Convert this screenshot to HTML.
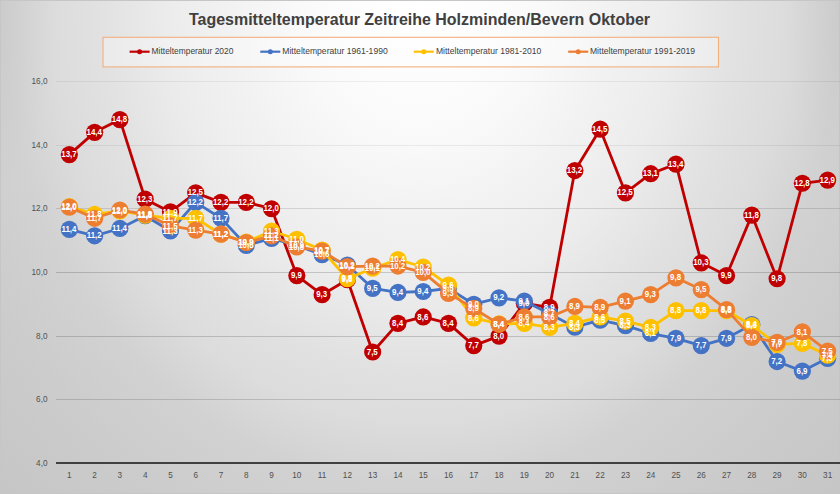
<!DOCTYPE html>
<html><head><meta charset="utf-8"><title>Chart</title>
<style>
html,body{margin:0;padding:0;background:#d0d0d0;}
body{width:840px;height:494px;overflow:hidden;font-family:"Liberation Sans",sans-serif;}
svg{display:block;font-family:"Liberation Sans",sans-serif;}
.dl{font-size:8.5px;font-weight:bold;fill:#fff;text-anchor:middle;}
.ax{font-size:8.2px;fill:#505050;}
.lg{font-size:8.6px;fill:#404040;}
</style></head><body>
<svg width="840" height="494" viewBox="0 0 840 494">
<defs>
<radialGradient id="bg" gradientUnits="userSpaceOnUse" cx="420" cy="0" r="600" gradientTransform="scale(1 1.15)">
<stop offset="0.0000" stop-color="#ffffff"/>
<stop offset="0.1400" stop-color="#fcfcfc"/>
<stop offset="0.2100" stop-color="#f9f9f9"/>
<stop offset="0.3150" stop-color="#f2f2f2"/>
<stop offset="0.4200" stop-color="#ececec"/>
<stop offset="0.5390" stop-color="#e1e1e1"/>
<stop offset="0.6160" stop-color="#dcdcdc"/>
<stop offset="0.7000" stop-color="#d2d2d2"/>
<stop offset="0.8260" stop-color="#cccccc"/>
<stop offset="0.9940" stop-color="#c6c6c6"/>
</radialGradient>
<radialGradient id="cl" gradientUnits="userSpaceOnUse" cx="0" cy="0" r="120" gradientTransform="scale(0.5 1.6)"><stop offset="0" stop-color="#000" stop-opacity="0.035"/><stop offset="1" stop-color="#000" stop-opacity="0"/></radialGradient>
<radialGradient id="cr" gradientUnits="userSpaceOnUse" cx="1680" cy="0" r="120" gradientTransform="scale(0.5 1.6)"><stop offset="0" stop-color="#000" stop-opacity="0.035"/><stop offset="1" stop-color="#000" stop-opacity="0"/></radialGradient>
</defs>
<rect x="0" y="0" width="840" height="494" fill="url(#bg)"/>
<rect x="0" y="0" width="70" height="200" fill="url(#cl)"/>
<rect x="770" y="0" width="70" height="200" fill="url(#cr)"/>
<rect x="0.5" y="0.5" width="839" height="493" fill="none" stroke="#c6c6c6" stroke-width="1"/>

<line x1="56" x2="840" y1="399.50" y2="399.50" stroke="#000" stroke-opacity="0.15" stroke-width="1"/>
<line x1="56" x2="840" y1="336.50" y2="336.50" stroke="#000" stroke-opacity="0.17" stroke-width="1"/>
<line x1="56" x2="840" y1="272.50" y2="272.50" stroke="#000" stroke-opacity="0.17" stroke-width="1"/>
<line x1="56" x2="840" y1="208.50" y2="208.50" stroke="#000" stroke-opacity="0.12" stroke-width="1"/>
<line x1="56" x2="840" y1="145.50" y2="145.50" stroke="#000" stroke-opacity="0.065" stroke-width="1"/>
<line x1="56" x2="840" y1="81.50" y2="81.50" stroke="#000" stroke-opacity="0.06" stroke-width="1"/>
<text class="ax" x="47.5" y="466.00" text-anchor="end">4,0</text>
<text class="ax" x="47.5" y="402.33" text-anchor="end">6,0</text>
<text class="ax" x="47.5" y="338.67" text-anchor="end">8,0</text>
<text class="ax" x="47.5" y="275.00" text-anchor="end">10,0</text>
<text class="ax" x="47.5" y="211.33" text-anchor="end">12,0</text>
<text class="ax" x="47.5" y="147.67" text-anchor="end">14,0</text>
<text class="ax" x="47.5" y="84.00" text-anchor="end">16,0</text>
<line x1="56" x2="840" y1="463" y2="463" stroke="#404040" stroke-width="2"/>
<text class="ax" x="69.34" y="477.6" text-anchor="middle">1</text>
<text class="ax" x="94.62" y="477.6" text-anchor="middle">2</text>
<text class="ax" x="119.89" y="477.6" text-anchor="middle">3</text>
<text class="ax" x="145.17" y="477.6" text-anchor="middle">4</text>
<text class="ax" x="170.45" y="477.6" text-anchor="middle">5</text>
<text class="ax" x="195.73" y="477.6" text-anchor="middle">6</text>
<text class="ax" x="221.00" y="477.6" text-anchor="middle">7</text>
<text class="ax" x="246.28" y="477.6" text-anchor="middle">8</text>
<text class="ax" x="271.56" y="477.6" text-anchor="middle">9</text>
<text class="ax" x="296.84" y="477.6" text-anchor="middle">10</text>
<text class="ax" x="322.11" y="477.6" text-anchor="middle">11</text>
<text class="ax" x="347.39" y="477.6" text-anchor="middle">12</text>
<text class="ax" x="372.67" y="477.6" text-anchor="middle">13</text>
<text class="ax" x="397.95" y="477.6" text-anchor="middle">14</text>
<text class="ax" x="423.22" y="477.6" text-anchor="middle">15</text>
<text class="ax" x="448.50" y="477.6" text-anchor="middle">16</text>
<text class="ax" x="473.78" y="477.6" text-anchor="middle">17</text>
<text class="ax" x="499.05" y="477.6" text-anchor="middle">18</text>
<text class="ax" x="524.33" y="477.6" text-anchor="middle">19</text>
<text class="ax" x="549.61" y="477.6" text-anchor="middle">20</text>
<text class="ax" x="574.89" y="477.6" text-anchor="middle">21</text>
<text class="ax" x="600.16" y="477.6" text-anchor="middle">22</text>
<text class="ax" x="625.44" y="477.6" text-anchor="middle">23</text>
<text class="ax" x="650.72" y="477.6" text-anchor="middle">24</text>
<text class="ax" x="676.00" y="477.6" text-anchor="middle">25</text>
<text class="ax" x="701.27" y="477.6" text-anchor="middle">26</text>
<text class="ax" x="726.55" y="477.6" text-anchor="middle">27</text>
<text class="ax" x="751.83" y="477.6" text-anchor="middle">28</text>
<text class="ax" x="777.11" y="477.6" text-anchor="middle">29</text>
<text class="ax" x="802.38" y="477.6" text-anchor="middle">30</text>
<text class="ax" x="827.66" y="477.6" text-anchor="middle">31</text>
<text x="419.5" y="24.6" text-anchor="middle" font-size="16.5" font-weight="bold" fill="#404040" textLength="461" lengthAdjust="spacingAndGlyphs">Tagesmitteltemperatur Zeitreihe Holzminden/Bevern Oktober</text>
<rect x="103" y="37.3" width="615.5" height="29.6" fill="#ffffff" fill-opacity="0.3" stroke="#f2b080" stroke-width="1.1"/>
<line x1="129.60000000000002" x2="149.60000000000002" y1="51.7" y2="51.7" stroke="#C00000" stroke-width="2.2"/>
<circle cx="139.60000000000002" cy="51.7" r="2.5" fill="#C00000"/>
<text class="lg" x="151.6" y="54.3" textLength="81.8" lengthAdjust="spacingAndGlyphs">Mitteltemperatur 2020</text>
<line x1="260.3" x2="280.3" y1="51.7" y2="51.7" stroke="#4472C4" stroke-width="2.2"/>
<circle cx="270.3" cy="51.7" r="2.5" fill="#4472C4"/>
<text class="lg" x="282.3" y="54.3" textLength="105.4" lengthAdjust="spacingAndGlyphs">Mitteltemperatur 1961-1990</text>
<line x1="413.8" x2="433.8" y1="51.7" y2="51.7" stroke="#FFC000" stroke-width="2.2"/>
<circle cx="423.8" cy="51.7" r="2.5" fill="#FFC000"/>
<text class="lg" x="435.9" y="54.3" textLength="105.4" lengthAdjust="spacingAndGlyphs">Mitteltemperatur 1981-2010</text>
<line x1="568.1999999999999" x2="588.1999999999999" y1="51.7" y2="51.7" stroke="#ED7D31" stroke-width="2.2"/>
<circle cx="578.1999999999999" cy="51.7" r="2.5" fill="#ED7D31"/>
<text class="lg" x="590" y="54.3" textLength="105" lengthAdjust="spacingAndGlyphs">Mitteltemperatur 1991-2019</text>
<polyline points="69.34,154.62 94.62,132.33 119.89,119.60 145.17,199.18 170.45,211.92 195.73,192.82 221.00,202.37 246.28,202.37 271.56,208.73 296.84,275.58 322.11,294.68 347.39,279.72 372.67,351.98 397.95,323.33 423.22,316.97 448.50,323.33 473.78,345.62 499.05,336.07 524.33,303.28 549.61,307.42 574.89,170.53 600.16,129.15 625.44,192.82 650.72,173.72 676.00,164.17 701.27,262.85 726.55,275.58 751.83,215.10 777.11,278.77 802.38,183.27 827.66,180.08" fill="none" stroke="#C00000" stroke-width="2.8" stroke-linejoin="round" stroke-linecap="round"/>
<circle cx="69.34" cy="154.62" r="8.6" fill="#C00000"/>
<circle cx="94.62" cy="132.33" r="8.6" fill="#C00000"/>
<circle cx="119.89" cy="119.60" r="8.6" fill="#C00000"/>
<circle cx="145.17" cy="199.18" r="8.6" fill="#C00000"/>
<circle cx="170.45" cy="211.92" r="8.6" fill="#C00000"/>
<circle cx="195.73" cy="192.82" r="8.6" fill="#C00000"/>
<circle cx="221.00" cy="202.37" r="8.6" fill="#C00000"/>
<circle cx="246.28" cy="202.37" r="8.6" fill="#C00000"/>
<circle cx="271.56" cy="208.73" r="8.6" fill="#C00000"/>
<circle cx="296.84" cy="275.58" r="8.6" fill="#C00000"/>
<circle cx="322.11" cy="294.68" r="8.6" fill="#C00000"/>
<circle cx="347.39" cy="279.72" r="8.6" fill="#C00000"/>
<circle cx="372.67" cy="351.98" r="8.6" fill="#C00000"/>
<circle cx="397.95" cy="323.33" r="8.6" fill="#C00000"/>
<circle cx="423.22" cy="316.97" r="8.6" fill="#C00000"/>
<circle cx="448.50" cy="323.33" r="8.6" fill="#C00000"/>
<circle cx="473.78" cy="345.62" r="8.6" fill="#C00000"/>
<circle cx="499.05" cy="336.07" r="8.6" fill="#C00000"/>
<circle cx="524.33" cy="303.28" r="8.6" fill="#C00000"/>
<circle cx="549.61" cy="307.42" r="8.6" fill="#C00000"/>
<circle cx="574.89" cy="170.53" r="8.6" fill="#C00000"/>
<circle cx="600.16" cy="129.15" r="8.6" fill="#C00000"/>
<circle cx="625.44" cy="192.82" r="8.6" fill="#C00000"/>
<circle cx="650.72" cy="173.72" r="8.6" fill="#C00000"/>
<circle cx="676.00" cy="164.17" r="8.6" fill="#C00000"/>
<circle cx="701.27" cy="262.85" r="8.6" fill="#C00000"/>
<circle cx="726.55" cy="275.58" r="8.6" fill="#C00000"/>
<circle cx="751.83" cy="215.10" r="8.6" fill="#C00000"/>
<circle cx="777.11" cy="278.77" r="8.6" fill="#C00000"/>
<circle cx="802.38" cy="183.27" r="8.6" fill="#C00000"/>
<circle cx="827.66" cy="180.08" r="8.6" fill="#C00000"/>
<polyline points="69.34,229.42 94.62,235.79 119.89,228.47 145.17,215.74 170.45,231.02 195.73,202.37 221.00,218.28 246.28,245.34 271.56,238.34 296.84,245.34 322.11,254.57 347.39,265.08 372.67,288.32 397.95,292.46 423.22,291.50 448.50,288.32 473.78,304.23 499.05,297.87 524.33,301.05 549.61,313.78 574.89,327.15 600.16,320.15 625.44,325.56 650.72,333.52 676.00,338.29 701.27,345.62 726.55,338.29 751.83,324.61 777.11,361.53 802.38,371.08 827.66,358.35" fill="none" stroke="#4472C4" stroke-width="2.8" stroke-linejoin="round" stroke-linecap="round"/>
<circle cx="69.34" cy="229.42" r="8.6" fill="#4472C4"/>
<circle cx="94.62" cy="235.79" r="8.6" fill="#4472C4"/>
<circle cx="119.89" cy="228.47" r="8.6" fill="#4472C4"/>
<circle cx="145.17" cy="215.74" r="8.6" fill="#4472C4"/>
<circle cx="170.45" cy="231.02" r="8.6" fill="#4472C4"/>
<circle cx="195.73" cy="202.37" r="8.6" fill="#4472C4"/>
<circle cx="221.00" cy="218.28" r="8.6" fill="#4472C4"/>
<circle cx="246.28" cy="245.34" r="8.6" fill="#4472C4"/>
<circle cx="271.56" cy="238.34" r="8.6" fill="#4472C4"/>
<circle cx="296.84" cy="245.34" r="8.6" fill="#4472C4"/>
<circle cx="322.11" cy="254.57" r="8.6" fill="#4472C4"/>
<circle cx="347.39" cy="265.08" r="8.6" fill="#4472C4"/>
<circle cx="372.67" cy="288.32" r="8.6" fill="#4472C4"/>
<circle cx="397.95" cy="292.46" r="8.6" fill="#4472C4"/>
<circle cx="423.22" cy="291.50" r="8.6" fill="#4472C4"/>
<circle cx="448.50" cy="288.32" r="8.6" fill="#4472C4"/>
<circle cx="473.78" cy="304.23" r="8.6" fill="#4472C4"/>
<circle cx="499.05" cy="297.87" r="8.6" fill="#4472C4"/>
<circle cx="524.33" cy="301.05" r="8.6" fill="#4472C4"/>
<circle cx="549.61" cy="313.78" r="8.6" fill="#4472C4"/>
<circle cx="574.89" cy="327.15" r="8.6" fill="#4472C4"/>
<circle cx="600.16" cy="320.15" r="8.6" fill="#4472C4"/>
<circle cx="625.44" cy="325.56" r="8.6" fill="#4472C4"/>
<circle cx="650.72" cy="333.52" r="8.6" fill="#4472C4"/>
<circle cx="676.00" cy="338.29" r="8.6" fill="#4472C4"/>
<circle cx="701.27" cy="345.62" r="8.6" fill="#4472C4"/>
<circle cx="726.55" cy="338.29" r="8.6" fill="#4472C4"/>
<circle cx="751.83" cy="324.61" r="8.6" fill="#4472C4"/>
<circle cx="777.11" cy="361.53" r="8.6" fill="#4472C4"/>
<circle cx="802.38" cy="371.08" r="8.6" fill="#4472C4"/>
<circle cx="827.66" cy="358.35" r="8.6" fill="#4472C4"/>
<polyline points="69.34,206.50 94.62,214.46 119.89,210.96 145.17,215.10 170.45,218.28 195.73,218.28 221.00,234.20 246.28,242.16 271.56,231.02 296.84,239.29 322.11,250.12 347.39,278.77 372.67,268.26 397.95,259.67 423.22,266.99 448.50,285.13 473.78,317.92 499.05,323.97 524.33,323.33 549.61,327.47 574.89,323.33 600.16,316.97 625.44,321.10 650.72,327.47 676.00,310.60 701.27,310.60 726.55,310.60 751.83,325.56 777.11,344.34 802.38,343.39 827.66,355.17" fill="none" stroke="#FFC000" stroke-width="2.8" stroke-linejoin="round" stroke-linecap="round"/>
<circle cx="69.34" cy="206.50" r="8.6" fill="#FFC000"/>
<circle cx="94.62" cy="214.46" r="8.6" fill="#FFC000"/>
<circle cx="119.89" cy="210.96" r="8.6" fill="#FFC000"/>
<circle cx="145.17" cy="215.10" r="8.6" fill="#FFC000"/>
<circle cx="170.45" cy="218.28" r="8.6" fill="#FFC000"/>
<circle cx="195.73" cy="218.28" r="8.6" fill="#FFC000"/>
<circle cx="221.00" cy="234.20" r="8.6" fill="#FFC000"/>
<circle cx="246.28" cy="242.16" r="8.6" fill="#FFC000"/>
<circle cx="271.56" cy="231.02" r="8.6" fill="#FFC000"/>
<circle cx="296.84" cy="239.29" r="8.6" fill="#FFC000"/>
<circle cx="322.11" cy="250.12" r="8.6" fill="#FFC000"/>
<circle cx="347.39" cy="278.77" r="8.6" fill="#FFC000"/>
<circle cx="372.67" cy="268.26" r="8.6" fill="#FFC000"/>
<circle cx="397.95" cy="259.67" r="8.6" fill="#FFC000"/>
<circle cx="423.22" cy="266.99" r="8.6" fill="#FFC000"/>
<circle cx="448.50" cy="285.13" r="8.6" fill="#FFC000"/>
<circle cx="473.78" cy="317.92" r="8.6" fill="#FFC000"/>
<circle cx="499.05" cy="323.97" r="8.6" fill="#FFC000"/>
<circle cx="524.33" cy="323.33" r="8.6" fill="#FFC000"/>
<circle cx="549.61" cy="327.47" r="8.6" fill="#FFC000"/>
<circle cx="574.89" cy="323.33" r="8.6" fill="#FFC000"/>
<circle cx="600.16" cy="316.97" r="8.6" fill="#FFC000"/>
<circle cx="625.44" cy="321.10" r="8.6" fill="#FFC000"/>
<circle cx="650.72" cy="327.47" r="8.6" fill="#FFC000"/>
<circle cx="676.00" cy="310.60" r="8.6" fill="#FFC000"/>
<circle cx="701.27" cy="310.60" r="8.6" fill="#FFC000"/>
<circle cx="726.55" cy="310.60" r="8.6" fill="#FFC000"/>
<circle cx="751.83" cy="325.56" r="8.6" fill="#FFC000"/>
<circle cx="777.11" cy="344.34" r="8.6" fill="#FFC000"/>
<circle cx="802.38" cy="343.39" r="8.6" fill="#FFC000"/>
<circle cx="827.66" cy="355.17" r="8.6" fill="#FFC000"/>
<polyline points="69.34,207.14 94.62,218.28 119.89,210.01 145.17,214.14 170.45,225.92 195.73,230.06 221.00,234.20 246.28,242.48 271.56,235.79 296.84,246.93 322.11,251.07 347.39,266.67 372.67,266.03 397.95,266.03 423.22,272.40 448.50,293.41 473.78,308.37 499.05,324.29 524.33,316.97 549.61,316.97 574.89,306.46 600.16,307.42 625.44,301.05 650.72,294.68 676.00,277.81 701.27,289.59 726.55,309.64 751.83,337.34 777.11,342.43 802.38,331.93 827.66,351.03" fill="none" stroke="#ED7D31" stroke-width="2.8" stroke-linejoin="round" stroke-linecap="round"/>
<circle cx="69.34" cy="207.14" r="8.6" fill="#ED7D31"/>
<circle cx="94.62" cy="218.28" r="8.6" fill="#ED7D31"/>
<circle cx="119.89" cy="210.01" r="8.6" fill="#ED7D31"/>
<circle cx="145.17" cy="214.14" r="8.6" fill="#ED7D31"/>
<circle cx="170.45" cy="225.92" r="8.6" fill="#ED7D31"/>
<circle cx="195.73" cy="230.06" r="8.6" fill="#ED7D31"/>
<circle cx="221.00" cy="234.20" r="8.6" fill="#ED7D31"/>
<circle cx="246.28" cy="242.48" r="8.6" fill="#ED7D31"/>
<circle cx="271.56" cy="235.79" r="8.6" fill="#ED7D31"/>
<circle cx="296.84" cy="246.93" r="8.6" fill="#ED7D31"/>
<circle cx="322.11" cy="251.07" r="8.6" fill="#ED7D31"/>
<circle cx="347.39" cy="266.67" r="8.6" fill="#ED7D31"/>
<circle cx="372.67" cy="266.03" r="8.6" fill="#ED7D31"/>
<circle cx="397.95" cy="266.03" r="8.6" fill="#ED7D31"/>
<circle cx="423.22" cy="272.40" r="8.6" fill="#ED7D31"/>
<circle cx="448.50" cy="293.41" r="8.6" fill="#ED7D31"/>
<circle cx="473.78" cy="308.37" r="8.6" fill="#ED7D31"/>
<circle cx="499.05" cy="324.29" r="8.6" fill="#ED7D31"/>
<circle cx="524.33" cy="316.97" r="8.6" fill="#ED7D31"/>
<circle cx="549.61" cy="316.97" r="8.6" fill="#ED7D31"/>
<circle cx="574.89" cy="306.46" r="8.6" fill="#ED7D31"/>
<circle cx="600.16" cy="307.42" r="8.6" fill="#ED7D31"/>
<circle cx="625.44" cy="301.05" r="8.6" fill="#ED7D31"/>
<circle cx="650.72" cy="294.68" r="8.6" fill="#ED7D31"/>
<circle cx="676.00" cy="277.81" r="8.6" fill="#ED7D31"/>
<circle cx="701.27" cy="289.59" r="8.6" fill="#ED7D31"/>
<circle cx="726.55" cy="309.64" r="8.6" fill="#ED7D31"/>
<circle cx="751.83" cy="337.34" r="8.6" fill="#ED7D31"/>
<circle cx="777.11" cy="342.43" r="8.6" fill="#ED7D31"/>
<circle cx="802.38" cy="331.93" r="8.6" fill="#ED7D31"/>
<circle cx="827.66" cy="351.03" r="8.6" fill="#ED7D31"/>
<text class="dl" transform="translate(68.94 157.22) scale(0.93 1)">13,7</text>
<text class="dl" transform="translate(94.22 134.93) scale(0.93 1)">14,4</text>
<text class="dl" transform="translate(119.49 122.20) scale(0.93 1)">14,8</text>
<text class="dl" transform="translate(144.77 201.78) scale(0.93 1)">12,3</text>
<text class="dl" transform="translate(170.05 214.52) scale(0.93 1)">11,9</text>
<text class="dl" transform="translate(195.33 195.42) scale(0.93 1)">12,5</text>
<text class="dl" transform="translate(220.60 204.97) scale(0.93 1)">12,2</text>
<text class="dl" transform="translate(245.88 204.97) scale(0.93 1)">12,2</text>
<text class="dl" transform="translate(271.16 211.33) scale(0.93 1)">12,0</text>
<text class="dl" transform="translate(296.44 278.18) scale(0.93 1)">9,9</text>
<text class="dl" transform="translate(321.71 297.28) scale(0.93 1)">9,3</text>
<text class="dl" transform="translate(346.99 282.32) scale(0.93 1)">9,8</text>
<text class="dl" transform="translate(372.27 354.58) scale(0.93 1)">7,5</text>
<text class="dl" transform="translate(397.55 325.93) scale(0.93 1)">8,4</text>
<text class="dl" transform="translate(422.82 319.57) scale(0.93 1)">8,6</text>
<text class="dl" transform="translate(448.10 325.93) scale(0.93 1)">8,4</text>
<text class="dl" transform="translate(473.38 348.22) scale(0.93 1)">7,7</text>
<text class="dl" transform="translate(498.65 338.67) scale(0.93 1)">8,0</text>
<text class="dl" transform="translate(523.93 305.88) scale(0.93 1)">9,0</text>
<text class="dl" transform="translate(549.21 310.02) scale(0.93 1)">8,9</text>
<text class="dl" transform="translate(574.49 173.13) scale(0.93 1)">13,2</text>
<text class="dl" transform="translate(599.76 131.75) scale(0.93 1)">14,5</text>
<text class="dl" transform="translate(625.04 195.42) scale(0.93 1)">12,5</text>
<text class="dl" transform="translate(650.32 176.32) scale(0.93 1)">13,1</text>
<text class="dl" transform="translate(675.60 166.77) scale(0.93 1)">13,4</text>
<text class="dl" transform="translate(700.87 265.45) scale(0.93 1)">10,3</text>
<text class="dl" transform="translate(726.15 278.18) scale(0.93 1)">9,9</text>
<text class="dl" transform="translate(751.43 217.70) scale(0.93 1)">11,8</text>
<text class="dl" transform="translate(776.71 281.37) scale(0.93 1)">9,8</text>
<text class="dl" transform="translate(801.98 185.87) scale(0.93 1)">12,8</text>
<text class="dl" transform="translate(827.26 182.68) scale(0.93 1)">12,9</text>
<text class="dl" transform="translate(68.94 232.02) scale(0.93 1)">11,4</text>
<text class="dl" transform="translate(94.22 238.39) scale(0.93 1)">11,2</text>
<text class="dl" transform="translate(119.49 231.07) scale(0.93 1)">11,4</text>
<text class="dl" transform="translate(144.77 218.34) scale(0.93 1)">11,8</text>
<text class="dl" transform="translate(170.05 233.62) scale(0.93 1)">11,3</text>
<text class="dl" transform="translate(195.33 204.97) scale(0.93 1)">12,2</text>
<text class="dl" transform="translate(220.60 220.88) scale(0.93 1)">11,7</text>
<text class="dl" transform="translate(245.88 247.94) scale(0.93 1)">10,8</text>
<text class="dl" transform="translate(271.16 240.94) scale(0.93 1)">11,1</text>
<text class="dl" transform="translate(296.44 247.94) scale(0.93 1)">10,9</text>
<text class="dl" transform="translate(321.71 257.17) scale(0.93 1)">10,6</text>
<text class="dl" transform="translate(346.99 267.68) scale(0.93 1)">10,2</text>
<text class="dl" transform="translate(372.27 290.92) scale(0.93 1)">9,5</text>
<text class="dl" transform="translate(397.55 295.06) scale(0.93 1)">9,4</text>
<text class="dl" transform="translate(422.82 294.10) scale(0.93 1)">9,4</text>
<text class="dl" transform="translate(448.10 290.92) scale(0.93 1)">9,5</text>
<text class="dl" transform="translate(473.38 306.83) scale(0.93 1)">9,0</text>
<text class="dl" transform="translate(498.65 300.47) scale(0.93 1)">9,2</text>
<text class="dl" transform="translate(523.93 303.65) scale(0.93 1)">9,1</text>
<text class="dl" transform="translate(549.21 316.38) scale(0.93 1)">8,7</text>
<text class="dl" transform="translate(574.49 329.75) scale(0.93 1)">8,3</text>
<text class="dl" transform="translate(599.76 322.75) scale(0.93 1)">8,5</text>
<text class="dl" transform="translate(625.04 328.16) scale(0.93 1)">8,3</text>
<text class="dl" transform="translate(650.32 336.12) scale(0.93 1)">8,1</text>
<text class="dl" transform="translate(675.60 340.89) scale(0.93 1)">7,9</text>
<text class="dl" transform="translate(700.87 348.22) scale(0.93 1)">7,7</text>
<text class="dl" transform="translate(726.15 340.89) scale(0.93 1)">7,9</text>
<text class="dl" transform="translate(751.43 327.21) scale(0.93 1)">8,4</text>
<text class="dl" transform="translate(776.71 364.13) scale(0.93 1)">7,2</text>
<text class="dl" transform="translate(801.98 373.68) scale(0.93 1)">6,9</text>
<text class="dl" transform="translate(827.26 360.95) scale(0.93 1)">7,3</text>
<text class="dl" transform="translate(68.94 209.10) scale(0.93 1)">12,0</text>
<text class="dl" transform="translate(94.22 217.06) scale(0.93 1)">11,8</text>
<text class="dl" transform="translate(119.49 213.56) scale(0.93 1)">12,0</text>
<text class="dl" transform="translate(144.77 217.70) scale(0.93 1)">11,8</text>
<text class="dl" transform="translate(170.05 220.88) scale(0.93 1)">11,7</text>
<text class="dl" transform="translate(195.33 220.88) scale(0.93 1)">11,7</text>
<text class="dl" transform="translate(220.60 236.80) scale(0.93 1)">11,2</text>
<text class="dl" transform="translate(245.88 244.76) scale(0.93 1)">10,9</text>
<text class="dl" transform="translate(271.16 233.62) scale(0.93 1)">11,3</text>
<text class="dl" transform="translate(296.44 241.89) scale(0.93 1)">11,0</text>
<text class="dl" transform="translate(321.71 252.72) scale(0.93 1)">10,7</text>
<text class="dl" transform="translate(346.99 281.37) scale(0.93 1)">9,8</text>
<text class="dl" transform="translate(372.27 270.86) scale(0.93 1)">10,1</text>
<text class="dl" transform="translate(397.55 262.27) scale(0.93 1)">10,4</text>
<text class="dl" transform="translate(422.82 269.59) scale(0.93 1)">10,2</text>
<text class="dl" transform="translate(448.10 287.73) scale(0.93 1)">9,6</text>
<text class="dl" transform="translate(473.38 320.52) scale(0.93 1)">8,6</text>
<text class="dl" transform="translate(498.65 326.57) scale(0.93 1)">8,4</text>
<text class="dl" transform="translate(523.93 325.93) scale(0.93 1)">8,4</text>
<text class="dl" transform="translate(549.21 330.07) scale(0.93 1)">8,3</text>
<text class="dl" transform="translate(574.49 325.93) scale(0.93 1)">8,4</text>
<text class="dl" transform="translate(599.76 319.57) scale(0.93 1)">8,6</text>
<text class="dl" transform="translate(625.04 323.70) scale(0.93 1)">8,5</text>
<text class="dl" transform="translate(650.32 330.07) scale(0.93 1)">8,3</text>
<text class="dl" transform="translate(675.60 313.20) scale(0.93 1)">8,8</text>
<text class="dl" transform="translate(700.87 313.20) scale(0.93 1)">8,8</text>
<text class="dl" transform="translate(726.15 313.20) scale(0.93 1)">8,8</text>
<text class="dl" transform="translate(751.43 328.16) scale(0.93 1)">8,3</text>
<text class="dl" transform="translate(776.71 346.94) scale(0.93 1)">7,7</text>
<text class="dl" transform="translate(801.98 345.99) scale(0.93 1)">7,8</text>
<text class="dl" transform="translate(827.26 357.77) scale(0.93 1)">7,4</text>
<text class="dl" transform="translate(68.94 209.74) scale(0.93 1)">12,0</text>
<text class="dl" transform="translate(94.22 220.88) scale(0.93 1)">11,7</text>
<text class="dl" transform="translate(119.49 212.61) scale(0.93 1)">12,0</text>
<text class="dl" transform="translate(144.77 216.74) scale(0.93 1)">11,8</text>
<text class="dl" transform="translate(170.05 228.52) scale(0.93 1)">11,5</text>
<text class="dl" transform="translate(195.33 232.66) scale(0.93 1)">11,3</text>
<text class="dl" transform="translate(220.60 236.80) scale(0.93 1)">11,2</text>
<text class="dl" transform="translate(245.88 245.08) scale(0.93 1)">10,9</text>
<text class="dl" transform="translate(271.16 238.39) scale(0.93 1)">11,2</text>
<text class="dl" transform="translate(296.44 249.53) scale(0.93 1)">10,8</text>
<text class="dl" transform="translate(321.71 253.67) scale(0.93 1)">10,7</text>
<text class="dl" transform="translate(346.99 269.27) scale(0.93 1)">10,2</text>
<text class="dl" transform="translate(372.27 268.63) scale(0.93 1)">10,2</text>
<text class="dl" transform="translate(397.55 268.63) scale(0.93 1)">10,2</text>
<text class="dl" transform="translate(422.82 275.00) scale(0.93 1)">10,0</text>
<text class="dl" transform="translate(448.10 296.01) scale(0.93 1)">9,3</text>
<text class="dl" transform="translate(473.38 310.97) scale(0.93 1)">8,9</text>
<text class="dl" transform="translate(498.65 326.89) scale(0.93 1)">8,4</text>
<text class="dl" transform="translate(523.93 319.57) scale(0.93 1)">8,6</text>
<text class="dl" transform="translate(549.21 319.57) scale(0.93 1)">8,6</text>
<text class="dl" transform="translate(574.49 309.06) scale(0.93 1)">8,9</text>
<text class="dl" transform="translate(599.76 310.02) scale(0.93 1)">8,9</text>
<text class="dl" transform="translate(625.04 303.65) scale(0.93 1)">9,1</text>
<text class="dl" transform="translate(650.32 297.28) scale(0.93 1)">9,3</text>
<text class="dl" transform="translate(675.60 280.41) scale(0.93 1)">9,8</text>
<text class="dl" transform="translate(700.87 292.19) scale(0.93 1)">9,5</text>
<text class="dl" transform="translate(726.15 312.25) scale(0.93 1)">8,8</text>
<text class="dl" transform="translate(751.43 339.94) scale(0.93 1)">8,0</text>
<text class="dl" transform="translate(776.71 345.03) scale(0.93 1)">7,8</text>
<text class="dl" transform="translate(801.98 334.53) scale(0.93 1)">8,1</text>
<text class="dl" transform="translate(827.26 353.63) scale(0.93 1)">7,5</text>
</svg></body></html>
